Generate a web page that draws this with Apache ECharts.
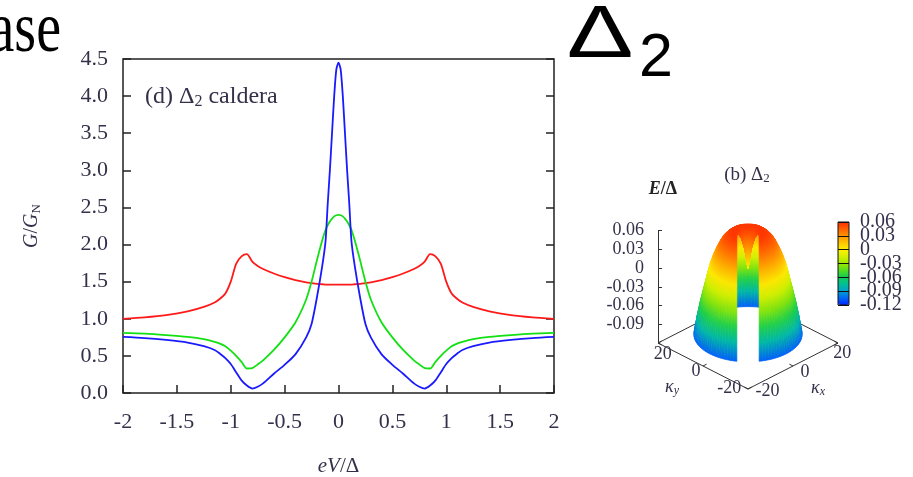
<!DOCTYPE html>
<html>
<head>
<meta charset="utf-8">
<script src="https://cdn.jsdelivr.net/npm/echarts@6/dist/echarts.min.js"></script>
<style>
  html, body { margin: 0; padding: 0; background: #fff; }
  #chart { width: 913px; height: 477px; }
</style>
</head>
<body>
<div id="chart"></div>
<script>
// ---- conductance spectra, panel (d) ----
const biasGrid = [-2, -1.8, -1.6, -1.4, -1.25, -1.15, -1.1, -1.05, -1, -0.95, -0.9, -0.85, -0.8, -0.75, -0.7,
  -0.6, -0.5, -0.4, -0.3, -0.25, -0.2, -0.15, -0.12, -0.1, -0.08, -0.06, -0.04, -0.02, 0,
  0.02, 0.04, 0.06, 0.08, 0.1, 0.12, 0.15, 0.2, 0.25, 0.3, 0.4, 0.5, 0.6, 0.7, 0.75, 0.8, 0.85,
  0.9, 0.95, 1, 1.05, 1.1, 1.15, 1.25, 1.4, 1.6, 1.8, 2];

const conductanceRed = [1.00, 1.02, 1.05, 1.10, 1.16, 1.22, 1.27, 1.34, 1.50, 1.74, 1.84, 1.87, 1.77, 1.71, 1.67,
  1.61, 1.56, 1.52, 1.49, 1.48, 1.47, 1.465, 1.46, 1.46, 1.46, 1.46, 1.46, 1.46, 1.46,
  1.46, 1.46, 1.46, 1.46, 1.46, 1.46, 1.465, 1.47, 1.48, 1.49, 1.52, 1.56, 1.61, 1.67, 1.71, 1.77, 1.87,
  1.84, 1.74, 1.50, 1.34, 1.27, 1.22, 1.16, 1.10, 1.05, 1.02, 1.00];

const conductanceGreen = [0.81, 0.80, 0.78, 0.755, 0.725, 0.69, 0.665, 0.63, 0.57, 0.50, 0.42, 0.33, 0.335, 0.385, 0.44,
  0.58, 0.75, 0.95, 1.26, 1.50, 1.79, 2.06, 2.20, 2.26, 2.31, 2.35, 2.38, 2.395, 2.40,
  2.395, 2.38, 2.35, 2.31, 2.26, 2.20, 2.06, 1.79, 1.50, 1.26, 0.95, 0.75, 0.58, 0.44, 0.385, 0.335, 0.33,
  0.42, 0.50, 0.57, 0.63, 0.665, 0.69, 0.725, 0.755, 0.78, 0.80, 0.81];

const conductanceBlue = [0.755, 0.74, 0.715, 0.68, 0.63, 0.58, 0.53, 0.47, 0.39, 0.28, 0.17, 0.10, 0.06, 0.085, 0.13,
  0.26, 0.38, 0.52, 0.75, 0.93, 1.29, 1.72, 2.05, 2.55, 3.0, 3.5, 4.0, 4.36, 4.45,
  4.36, 4.0, 3.5, 3.0, 2.55, 2.05, 1.72, 1.29, 0.93, 0.75, 0.52, 0.38, 0.26, 0.13, 0.085, 0.06, 0.10,
  0.17, 0.28, 0.39, 0.47, 0.53, 0.58, 0.63, 0.68, 0.715, 0.74, 0.755];

// ---- dispersion surface, panel (b): radial profile E(|k|) ----
const kRadius = [0, 1, 2, 3, 4, 5, 6, 7, 8, 9, 10, 11, 12, 13, 14, 15, 16, 17];
const kEnergy = [0.0, 0.03, 0.047, 0.055, 0.057, 0.057, 0.055, 0.051, 0.046, 0.038, 0.028, 0.017, 0.003,
  -0.016, -0.036, -0.056, -0.079, -0.106];
const kTicks = [-20, 0, 20];
const zTicks = [-0.09, -0.06, -0.03, 0, 0.03, 0.06];
const barTicks = [-0.12, -0.09, -0.06, -0.03, 0, 0.03, 0.06];
const baseCorners = [[-20, 20], [-20, -20], [20, -20], [20, 20], [-20, 20]];
const palette = ['#0022ff', '#0066f5', '#00a0d0', '#00bf95', '#10cc55', '#55dc20', '#9ce800',
  '#d4f000', '#fff000', '#ffc400', '#ff9400', '#ff6000', '#ff2c00'];

const SERIF = '"Liberation Serif", "Times New Roman", serif';
const SANS = '"Liberation Sans", Arial, sans-serif';
const INK = '#35304a';

// oblique view of the (kx, ky, E) box: horizontal = kx - ky, vertical folds kx + ky into E units
const E_MIN = -0.12, E_MAX = 0.06;
const TILT = 0.001843;
function project(kx, ky, e) { return [kx - ky, e + TILT * (kx + ky)]; }
function colorAt(e) {
  const t = Math.min(1, Math.max(0, (e - E_MIN) / (E_MAX - E_MIN)));
  return echarts.color.lerp(t, palette);
}

// surface mesh, with a slot cut out along the front diagonal; faces painted back to front
const cutHalf = 3.5;
const frontAngle = 5 * Math.PI / 4;
const steps = 96;
const rings = kRadius.map((r, i) => {
  const a = r > cutHalf ? Math.asin(cutHalf / r) : Math.PI / 2;
  const pts = [];
  for (let j = 0; j <= steps; j++) {
    const th = frontAngle + a + (2 * Math.PI - 2 * a) * j / steps;
    pts.push({ kx: r * Math.cos(th), ky: r * Math.sin(th), e: kEnergy[i] });
  }
  return pts;
});
const quads = [];
for (let i = 0; i < rings.length - 1; i++) {
  for (let j = 0; j < steps; j++) {
    const p = [rings[i][j], rings[i][j + 1], rings[i + 1][j + 1], rings[i + 1][j]];
    const cx = (p[0].kx + p[1].kx + p[2].kx + p[3].kx) / 4;
    const cy = (p[0].ky + p[1].ky + p[2].ky + p[3].ky) / 4;
    const ce = (p[0].e + p[2].e) / 2;
    const depth = 0.86 * (-(cx + cy) / Math.SQRT2) + 116.6 * ce;
    const flat = [];
    p.forEach(q => { const v = project(q.kx, q.ky, q.e); flat.push(v[0], v[1]); });
    flat.push(kEnergy[i], kEnergy[i + 1]);
    quads.push({ depth, flat });
  }
}
quads.sort((a, b) => a.depth - b.depth);
const surfaceData = quads.map(q => q.flat);

// base outline and its ticks
const baseData = baseCorners.map(c => project(c[0], c[1], E_MIN));
const baseTickData = [];
kTicks.forEach(v => {
  baseTickData.push([-20, v, 1.6, 0], [20, v, -1.6, 0], [v, -20, 0, 1.6], [v, 20, 0, -1.6]);
});
const baseLabelData = kTicks.map(v => [0, v]).concat(kTicks.map(v => [1, v]));

const chart = echarts.init(document.getElementById('chart'));

const tickFmt = v => String(Math.round(v * 100) / 100);

const option = {
  animation: false,
  backgroundColor: '#fff',
  grid: [
    { left: 123, top: 59, width: 431, height: 334, show: true, borderColor: '#222', borderWidth: 1.5, outerBoundsMode: 'none' },
    { left: 658, top: 230.7, width: 180, height: 112.3, outerBoundsMode: 'none' },
    { left: 838, top: 222, width: 11, height: 83, show: true, borderColor: '#111', borderWidth: 1, z: 8, outerBoundsMode: 'none' }
  ],
  xAxis: [
    {
      gridIndex: 0, type: 'value', min: -2, max: 2, interval: 0.5,
      axisLine: { show: false, onZero: false },
      axisTick: { show: true, inside: true, length: 8, lineStyle: { color: '#222', width: 1.5 } },
      axisLabel: { margin: 18, fontFamily: SERIF, fontSize: 22, color: INK },
      splitLine: { show: false },
      name: '{i|eV}/Δ', nameLocation: 'middle', nameGap: 63,
      nameTextStyle: {
        fontFamily: SERIF, fontSize: 21, color: INK,
        rich: { i: { fontFamily: SERIF, fontSize: 21, fontStyle: 'italic', color: INK } }
      }
    },
    { gridIndex: 1, type: 'value', min: -40, max: 40, show: false },
    { gridIndex: 2, type: 'value', min: 0, max: 1, show: false }
  ],
  yAxis: [
    {
      gridIndex: 0, type: 'value', min: 0, max: 4.5, interval: 0.5,
      axisLine: { show: false, onZero: false },
      axisTick: { show: true, inside: true, length: 8, lineStyle: { color: '#222', width: 1.5 } },
      axisLabel: { margin: 15, fontFamily: SERIF, fontSize: 22, color: INK, formatter: v => v.toFixed(1) },
      splitLine: { show: false },
      name: '{i|G}/{i|G}{s|N}', nameLocation: 'middle', nameRotate: 90, nameGap: 80,
      nameTextStyle: {
        fontFamily: SERIF, fontSize: 20, color: INK,
        rich: {
          i: { fontFamily: SERIF, fontSize: 20, fontStyle: 'italic', color: INK },
          s: { fontFamily: SERIF, fontSize: 13, color: INK, padding: [10, 0, 0, 0] }
        }
      }
    },
    {
      gridIndex: 0, type: 'value', min: 0, max: 4.5, interval: 0.5, position: 'right',
      axisLine: { show: false, onZero: false },
      axisTick: { show: true, inside: true, length: 8, lineStyle: { color: '#222', width: 1.5 } },
      axisLabel: { show: false }, splitLine: { show: false }
    },
    {
      gridIndex: 1, type: 'value', min: E_MIN, max: E_MAX, position: 'left',
      axisLine: { show: true, onZero: false, lineStyle: { color: '#333', width: 1 } },
      axisTick: { show: true, inside: true, length: 4, customValues: zTicks, lineStyle: { color: '#333' } },
      axisLabel: { customValues: zTicks, margin: 14, fontFamily: SERIF, fontSize: 18, color: INK, formatter: tickFmt },
      splitLine: { show: false }
    },
    {
      gridIndex: 2, type: 'value', min: E_MIN, max: E_MAX, interval: 0.03, position: 'right', z: 8,
      axisLine: { show: false, onZero: false }, axisTick: { show: false },
      axisLabel: { show: false },
      splitLine: { show: true, lineStyle: { color: '#111', width: 1 } }
    }
  ],
  visualMap: {
    type: 'continuous', min: E_MIN, max: E_MAX, seriesIndex: 6, dimension: 8,
    calculable: false, hoverLink: false, left: 838, top: 222, itemWidth: 11, itemHeight: 83,
    padding: 0, inRange: { color: palette }, z: 2
  },
  graphic: [
    { type: 'text', x: 61, y: 32, scaleY: 1.3, style: { text: 'ase', font: '56px ' + SERIF, fill: '#000', align: 'right', verticalAlign: 'middle' } },
    { type: 'text', x: 600, y: 37, scaleX: 1.35, style: { text: 'Δ', font: '74px ' + SANS, fill: '#000', align: 'center', verticalAlign: 'middle' } },
    { type: 'text', x: 656, y: 59, style: { text: '2', font: '61px ' + SANS, fill: '#000', align: 'center', verticalAlign: 'middle' } },
    {
      type: 'text', x: 145, y: 97,
      style: {
        text: '(d) Δ{s|2} caldera', font: '24px ' + SERIF, fill: INK, align: 'left', verticalAlign: 'middle',
        rich: { s: { fontFamily: SERIF, fontSize: 16, fill: INK, padding: [10, 0, 0, 0] } }
      }
    },
    {
      type: 'text', x: 747, y: 175,
      style: {
        text: '(b) Δ{s|2}', font: '19px ' + SERIF, fill: INK, align: 'center', verticalAlign: 'middle',
        rich: { s: { fontFamily: SERIF, fontSize: 13, fill: INK, padding: [8, 0, 0, 0] } }
      }
    },
    {
      type: 'text', x: 663, y: 189,
      style: {
        text: '{i|E}/Δ', font: 'bold 18px ' + SERIF, fill: '#222', align: 'center', verticalAlign: 'middle',
        rich: { i: { fontFamily: SERIF, fontSize: 18, fontStyle: 'italic', fontWeight: 'bold', fill: '#222' } }
      }
    },
    {
      type: 'text', x: 672, y: 387,
      style: {
        text: '{i|κ}{s|y}', font: '18px ' + SERIF, fill: INK, align: 'center', verticalAlign: 'middle',
        rich: { i: { fontFamily: SERIF, fontSize: 18, fontStyle: 'italic', fill: INK },
                s: { fontFamily: SERIF, fontSize: 12, fontStyle: 'italic', fill: INK, padding: [8, 0, 0, 0] } }
      }
    },
    {
      type: 'text', x: 818, y: 388,
      style: {
        text: '{i|κ}{s|x}', font: '18px ' + SERIF, fill: INK, align: 'center', verticalAlign: 'middle',
        rich: { i: { fontFamily: SERIF, fontSize: 18, fontStyle: 'italic', fill: INK },
                s: { fontFamily: SERIF, fontSize: 12, fontStyle: 'italic', fill: INK, padding: [8, 0, 0, 0] } }
      }
    }
  ],
  series: [
    {
      type: 'line', xAxisIndex: 0, yAxisIndex: 0, showSymbol: false, smooth: 0.25,
      data: biasGrid.map((x, i) => [x, conductanceRed[i]]),
      lineStyle: { color: '#ff1a1a', width: 1.8 }, itemStyle: { color: '#ff1a1a' }
    },
    {
      type: 'line', xAxisIndex: 0, yAxisIndex: 0, showSymbol: false, smooth: 0.25,
      data: biasGrid.map((x, i) => [x, conductanceGreen[i]]),
      lineStyle: { color: '#12e012', width: 1.8 }, itemStyle: { color: '#12e012' }
    },
    {
      type: 'line', xAxisIndex: 0, yAxisIndex: 0, showSymbol: false, smooth: 0.25,
      data: biasGrid.map((x, i) => [x, conductanceBlue[i]]),
      lineStyle: { color: '#1a1aff', width: 1.8 }, itemStyle: { color: '#1a1aff' }
    },
    {
      type: 'line', xAxisIndex: 1, yAxisIndex: 2, showSymbol: false, clip: false, silent: true, z: 1,
      data: baseData, lineStyle: { color: '#333', width: 1 }
    },
    {
      type: 'custom', xAxisIndex: 1, yAxisIndex: 2, clip: false, silent: true, z: 1,
      data: baseTickData,
      renderItem: (params, api) => {
        const kx = api.value(0), ky = api.value(1);
        const a = api.coord(project(kx, ky, E_MIN));
        const b = api.coord(project(kx + api.value(2), ky + api.value(3), E_MIN));
        return { type: 'line', shape: { x1: a[0], y1: a[1], x2: b[0], y2: b[1] }, style: { stroke: '#333', lineWidth: 1 } };
      }
    },
    {
      type: 'custom', xAxisIndex: 1, yAxisIndex: 2, clip: false, silent: true,
      data: baseLabelData,
      renderItem: (params, api) => {
        const which = api.value(0), v = api.value(1);
        // tick labels sit just outside the front edges of the base
        const p = which === 0 ? api.coord(project(-23.1, 0.74 * v, E_MIN))
                              : api.coord(project(0.83 * v, -25.3, E_MIN));
        return {
          type: 'text', x: p[0], y: p[1] + (which === 0 ? 2 : 0),
          style: { text: String(v), font: '18px ' + SERIF, fill: INK, align: 'center', verticalAlign: 'middle' }
        };
      }
    },
    {
      type: 'custom', xAxisIndex: 1, yAxisIndex: 2, clip: false, silent: true, z: 5,
      data: surfaceData,
      renderItem: (params, api) => {
        const pts = [];
        for (let k = 0; k < 4; k++) pts.push(api.coord([api.value(2 * k), api.value(2 * k + 1)]));
        const m0 = [(pts[0][0] + pts[1][0]) / 2, (pts[0][1] + pts[1][1]) / 2];
        const m1 = [(pts[2][0] + pts[3][0]) / 2, (pts[2][1] + pts[3][1]) / 2];
        const fill = new echarts.graphic.LinearGradient(m0[0], m0[1], m1[0], m1[1], [
          { offset: 0, color: colorAt(api.value(8)) },
          { offset: 1, color: colorAt(api.value(9)) }
        ], true);
        return {
          type: 'polygon', z2: params.dataIndex,
          shape: { points: pts }, style: { fill: fill, stroke: fill, lineWidth: 0.7 }
        };
      }
    },
    {
      // colour-bar tick labels
      type: 'custom', xAxisIndex: 2, yAxisIndex: 3, clip: false, silent: true, z: 8,
      data: barTicks.map(v => [1, v]),
      renderItem: (params, api) => {
        const p = api.coord([api.value(0), api.value(1)]);
        return {
          type: 'text', x: p[0] + 11, y: p[1],
          style: { text: tickFmt(api.value(1)), font: '20px ' + SERIF, fill: INK, align: 'left', verticalAlign: 'middle' }
        };
      }
    }
  ]
};

chart.setOption(option);
</script>
</body>
</html>
